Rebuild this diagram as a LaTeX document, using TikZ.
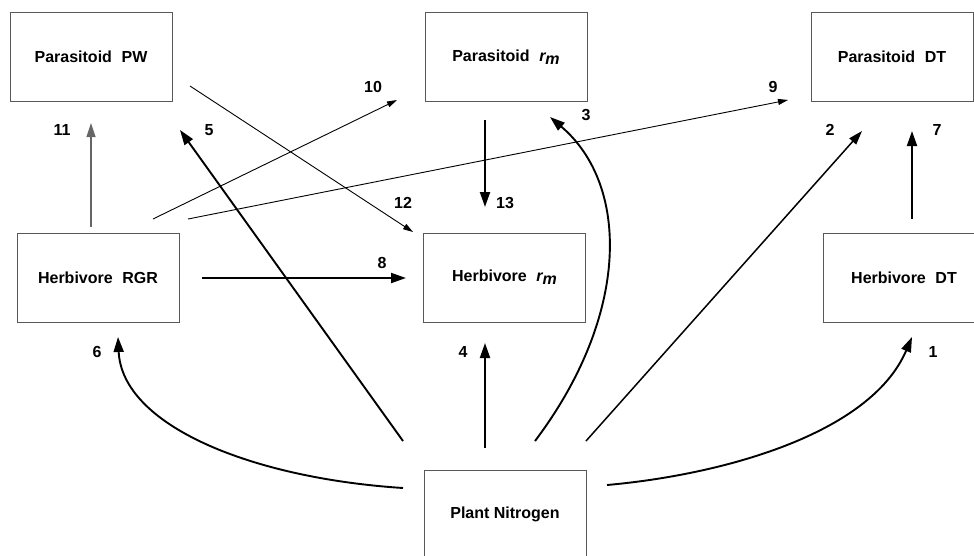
\documentclass[tikz,border=0pt]{standalone}
\usepackage{fontspec}
\setmainfont{Liberation Sans}
\usetikzlibrary{arrows.meta}
\begin{document}
\begin{tikzpicture}[x=1pt,y=-1pt,
  font=\fontsize{16}{19}\selectfont\bfseries,
  box/.style={draw=black!65,line width=0.9pt,minimum width=162pt,minimum height=89pt,inner sep=0pt},
  thickarr/.style={line width=1.9pt,-{Triangle[length=15pt,width=10pt]}},
  midarr/.style={line width=1.5pt,-{Triangle[length=14pt,width=9pt]}},
  thinarr/.style={line width=0.9pt,-{Triangle[length=10pt,width=6pt]}},
  grayarr/.style={draw=black!60,line width=1.2pt,-{Triangle[length=14pt,width=9pt]},color=black!60},
  lbl/.style={inner sep=0pt}]
\useasboundingbox (0,0) rectangle (974,555);
\newcommand{\rmsub}{{\itshape r\raisebox{-0.35ex}{m}}}
% boxes
\node[box] (PW)  at (91,57)    {Parasitoid\hspace{0.6em}PW};
\node[box] (Prm) at (506,57)   {Parasitoid\hspace{0.6em}\rmsub};
\node[box] (PDT) at (892,57)   {Parasitoid\hspace{0.6em}DT};
\node[box] (HRGR) at (98,277.5) {Herbivore\hspace{0.6em}RGR};
\node[box] (Hrm) at (504.5,277.5) {Herbivore\hspace{0.6em}\rmsub};
\node[box] (HDT) at (904,277.5) {Herbivore\hspace{0.6em}DT};
\node[box] (PN)  at (505,514.5) {Plant Nitrogen};
% connector ends
\coordinate (s1) at (607,485);  \coordinate (t1) at (912,337);
\coordinate (s2) at (586,441);  \coordinate (t2) at (862,131);
\coordinate (s3) at (535,441);  \coordinate (t3) at (550,117);
\coordinate (s4) at (485,448);  \coordinate (t4) at (485,343);
\coordinate (s5) at (403,441);  \coordinate (t5) at (180,130);
\coordinate (s6) at (403,488);  \coordinate (t6) at (118,337);
\coordinate (s7) at (912,219);  \coordinate (t7) at (912,131);
\coordinate (s8) at (202,278);  \coordinate (t8) at (406,278);
\coordinate (s9) at (188,219);  \coordinate (t9) at (788,100);
\coordinate (s10) at (153,219); \coordinate (t10) at (397,100);
\coordinate (s11) at (91,227);  \coordinate (t11) at (91,123);
\coordinate (s12) at (190,86);  \coordinate (t12) at (413,232);
\coordinate (s13) at (485,120); \coordinate (t13) at (485,207);
% connectors
\draw[thickarr] (s1) .. controls (720,475) and (870,435) .. (t1);
\draw[midarr] (s2) -- (t2);
\draw[thickarr] (s3) .. controls (630,315) and (630,185) .. (t3);
\draw[thickarr] (s4) -- (t4);
\draw[thickarr] (s5) -- (t5);
\draw[thickarr] (s6) .. controls (250,478) and (122,425) .. (t6);
\draw[thickarr] (s7) -- (t7);
\draw[thickarr] (s8) -- (t8);
\draw[thinarr] (s9) -- (t9);
\draw[thinarr] (s10) -- (t10);
\draw[grayarr] (s11) -- (t11);
\draw[thinarr] (s12) -- (t12);
\draw[thickarr] (s13) -- (t13);
% labels
\node[lbl] (l1) at (933,352) {1};
\node[lbl] (l2) at (830,130) {2};
\node[lbl] (l3) at (586,115) {3};
\node[lbl] (l4) at (463,352) {4};
\node[lbl] (l5) at (209,130) {5};
\node[lbl] (l6) at (97,352) {6};
\node[lbl] (l7) at (937,130) {7};
\node[lbl] (l8) at (382,263) {8};
\node[lbl] (l9) at (773,87) {9};
\node[lbl] (l10) at (373,87) {10};
\node[lbl] (l11) at (62,130) {11};
\node[lbl] (l12) at (403,203) {12};
\node[lbl] (l13) at (505,203) {13};
\end{tikzpicture}
\end{document}
